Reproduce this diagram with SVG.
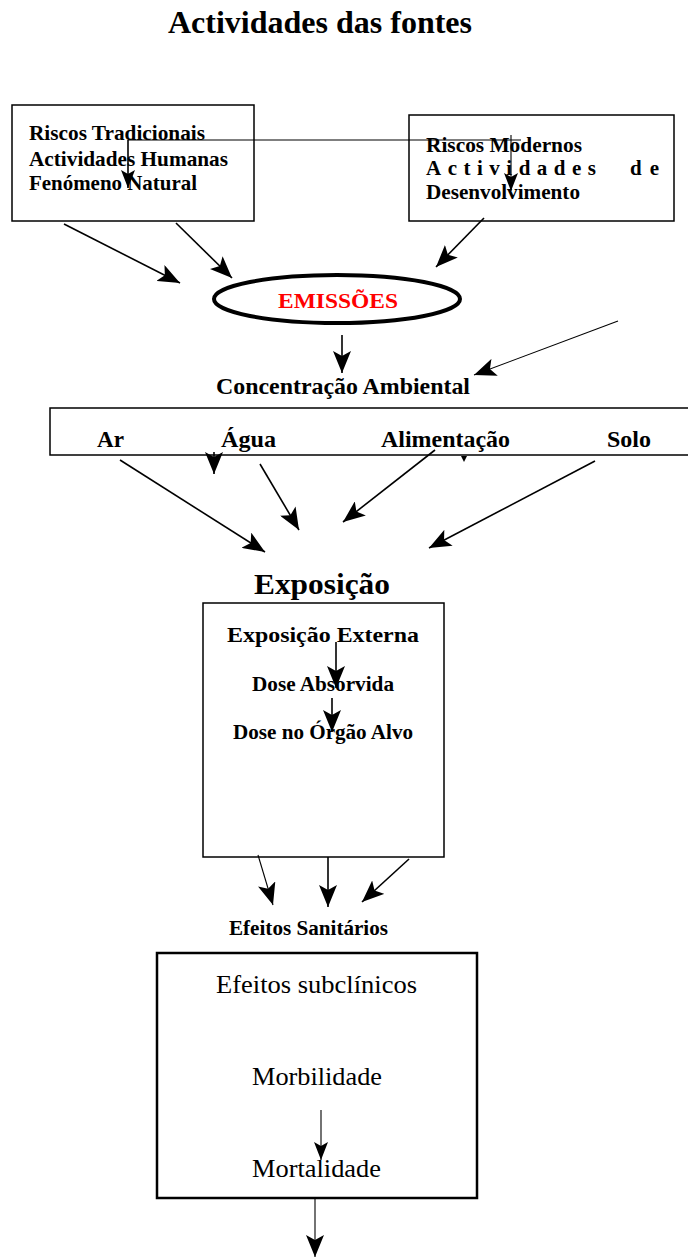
<svg xmlns="http://www.w3.org/2000/svg" width="688" height="1259" viewBox="0 0 688 1259">
<style>
.b{font-family:"Liberation Serif","Times New Roman",serif;font-weight:bold;fill:#000}
.r{font-family:"Liberation Serif","Times New Roman",serif;fill:#000}
.box{fill:none;stroke:#000;stroke-width:1.5}
.ln{stroke:#000;stroke-width:1.6;fill:none}
.thin{stroke:#000;stroke-width:1.1;fill:none}
.big{marker-end:url(#ab)}
.sm{marker-end:url(#as)}
</style>
<defs>
<marker id="ab" markerUnits="userSpaceOnUse" viewBox="0 -9 22 18" refX="22" refY="0" markerWidth="22" markerHeight="18" orient="auto">
<path d="M0,-9 L22,0 L0,9 L5,0 Z" fill="#000"/>
</marker>
<marker id="as" markerUnits="userSpaceOnUse" viewBox="0 -7 18 14" refX="18" refY="0" markerWidth="18" markerHeight="14" orient="auto">
<path d="M0,-7 L18,0 L0,7 L4,0 Z" fill="#000"/>
</marker>
</defs>

<g id="title">
<text class="b" x="168" y="33" font-size="32" textLength="304" lengthAdjust="spacingAndGlyphs">Actividades das fontes</text>
</g>

<g id="riscos-tradicionais">
<rect class="box" x="12" y="105" width="242" height="116"/>
<text class="b" x="29" y="140" font-size="21" textLength="176" lengthAdjust="spacingAndGlyphs">Riscos Tradicionais</text>
<text class="b" x="29" y="166" font-size="21" textLength="199" lengthAdjust="spacingAndGlyphs">Actividades Humanas</text>
<text class="b" x="29" y="190" font-size="21" textLength="168" lengthAdjust="spacingAndGlyphs">Fenómeno Natural</text>
</g>

<g id="riscos-modernos">
<rect class="box" x="409" y="115" width="265" height="106"/>
<text class="b" x="426" y="152" font-size="21" textLength="156" lengthAdjust="spacingAndGlyphs">Riscos Modernos</text>
<text class="b" x="426" y="175" font-size="21" textLength="170" lengthAdjust="spacing">Actividades</text>
<text class="b" x="630" y="175" font-size="21" textLength="29" lengthAdjust="spacing">de</text>
<text class="b" x="426" y="199" font-size="21" textLength="154" lengthAdjust="spacingAndGlyphs">Desenvolvimento</text>
</g>

<g id="emissoes">
<ellipse cx="337" cy="299" rx="123" ry="24" fill="none" stroke="#000" stroke-width="4"/>
<text class="b" x="278" y="308" font-size="22" style="fill:#ff0000" textLength="120" lengthAdjust="spacingAndGlyphs">EMISSÕES</text>
</g>

<g id="concentracao">
<text class="b" x="216" y="394" font-size="24" textLength="254" lengthAdjust="spacingAndGlyphs">Concentração Ambiental</text>
</g>

<g id="meios">
<rect class="box" x="50" y="408" width="650" height="47"/>
<text class="b" x="97" y="447" font-size="23" textLength="27" lengthAdjust="spacingAndGlyphs">Ar</text>
<text class="b" x="221" y="447" font-size="23" textLength="55" lengthAdjust="spacingAndGlyphs">Água</text>
<text class="b" x="381" y="447" font-size="23" textLength="129" lengthAdjust="spacingAndGlyphs">Alimentação</text>
<text class="b" x="607" y="447" font-size="23" textLength="44" lengthAdjust="spacingAndGlyphs">Solo</text>
</g>

<g id="exposicao">
<text class="b" x="254" y="594" font-size="30" textLength="136" lengthAdjust="spacingAndGlyphs">Exposição</text>
<rect class="box" x="203" y="603" width="241" height="254"/>
<text class="b" x="227" y="642" font-size="21" textLength="192" lengthAdjust="spacingAndGlyphs">Exposição Externa</text>
<text class="b" x="252" y="691" font-size="20" textLength="142" lengthAdjust="spacingAndGlyphs">Dose Absorvida</text>
<text class="b" x="233" y="739" font-size="20" textLength="180" lengthAdjust="spacingAndGlyphs">Dose no Órgão Alvo</text>
</g>

<g id="efeitos-sanitarios">
<text class="b" x="229" y="935" font-size="20" textLength="159" lengthAdjust="spacingAndGlyphs">Efeitos Sanitários</text>
<rect x="157" y="953" width="320" height="245" fill="none" stroke="#000" stroke-width="2.5"/>
<text class="r" x="216" y="993" font-size="26" textLength="201" lengthAdjust="spacingAndGlyphs">Efeitos subclínicos</text>
<text class="r" x="252" y="1085" font-size="26" textLength="130" lengthAdjust="spacingAndGlyphs">Morbilidade</text>
<text class="r" x="252" y="1177" font-size="26" textLength="129" lengthAdjust="spacingAndGlyphs">Mortalidade</text>
</g>

<g id="connectors">
<line class="thin" x1="128" y1="140" x2="521" y2="140"/>
<line class="ln sm" x1="128" y1="140" x2="128" y2="188" stroke="#444"/>
<line class="thin sm" x1="511" y1="135" x2="511" y2="191"/>
<line class="ln big" x1="64" y1="224" x2="180" y2="283"/>
<line class="ln big" x1="176" y1="223" x2="232" y2="278"/>
<line class="ln big" x1="484" y1="218" x2="436" y2="267"/>
<line class="ln big" x1="342" y1="335" x2="342" y2="373"/>
<line class="thin big" x1="618" y1="321" x2="474" y2="375"/>
<line class="ln big" x1="120" y1="460" x2="265" y2="552"/>
<line class="ln big" x1="214" y1="452" x2="214" y2="474"/>
<path d="M461,456 L467,456 L464,462 Z" fill="#000"/>
<line class="ln big" x1="260" y1="464" x2="299" y2="530"/>
<line class="ln big" x1="435" y1="450" x2="343" y2="522"/>
<line class="ln big" x1="595" y1="461" x2="429" y2="548"/>
<line class="ln big" x1="336" y1="642" x2="336" y2="688"/>
<line class="ln big" x1="332" y1="698" x2="332" y2="732"/>
<line class="thin big" x1="258" y1="855" x2="273" y2="905"/>
<line class="ln big" x1="328" y1="857" x2="328" y2="907"/>
<line class="ln big" x1="409" y1="859" x2="362" y2="902"/>
<line class="thin sm" x1="321" y1="1110" x2="321" y2="1160"/>
<line class="thin big" x1="315" y1="1199" x2="315" y2="1257"/>
</g>
</svg>
